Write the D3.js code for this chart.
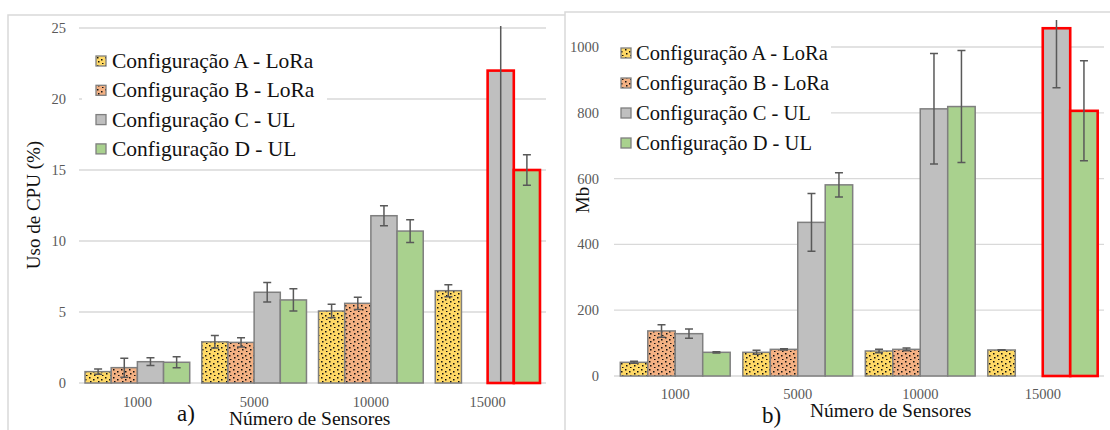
<!DOCTYPE html>
<html>
<head>
<meta charset="utf-8">
<script src="https://cdn.jsdelivr.net/npm/d3@7"></script>
<style>
  html, body { margin: 0; padding: 0; background: #fff; }
  svg { display: block; }
  text { font-family: "Liberation Serif", "Times New Roman", serif; }
</style>
</head>
<body>
<svg id="chart" width="1110" height="430"></svg>
<script>
// ---------- DATA ----------
const categories = ["1000", "5000", "10000", "15000"];
const seriesNames = ["Configuração A - LoRa", "Configuração B - LoRa", "Configuração C - UL", "Configuração D - UL"];
const seriesKeys = ["A", "B", "C", "D"];

// Panel a) CPU usage (%)
const cpuA = [0.8, 2.9, 5.07, 6.5];
const cpuAErr = [0.18, 0.44, 0.48, 0.42];
const cpuB = [1.08, 2.86, 5.61, null];
const cpuBErr = [0.67, 0.32, 0.43, null];
const cpuC = [1.5, 6.39, 11.78, 22.0];
const cpuCErr = [0.27, 0.68, 0.7, 22.0];
const cpuD = [1.46, 5.85, 10.7, 15.0];
const cpuDErr = [0.39, 0.78, 0.8, 1.08];
const cpuTicks = [0, 5, 10, 15, 20, 25];

// Panel b) Memory (Mb)
const memA = [41.6, 72, 76, 79];
const memAErr = [3, 6, 5, 1];
const memB = [137, 81, 81, null];
const memBErr = [19, 2, 4, null];
const memC = [128.6, 467, 812, 1057];
const memCErr = [14, 88, 168, 181];
const memD = [72, 581, 819, 806];
const memDErr = [2, 37, 170, 152];
const memTicks = [0, 200, 400, 600, 800, 1000];

// highlighted (red outline) category / series
const highlightCategory = "15000";
const highlightSeries = ["C", "D"];

// ---------- STYLE ----------
const fills = { A: "#ffd966", B: "#f4b183", C: "#bfbfbf", D: "#a9d18e" };
const dotted = { A: true, B: true, C: false, D: false };

const svg = d3.select("#chart");
const defs = svg.append("defs");

function makePattern(id, color) {
  const p = defs.append("pattern").attr("id", id).attr("patternUnits", "userSpaceOnUse")
    .attr("width", 8).attr("height", 8);
  p.append("rect").attr("width", 8).attr("height", 8).attr("fill", color);
  const dots = [[1, 1], [5, 3], [2, 5], [6, 7]];
  dots.forEach(d => p.append("rect").attr("x", d[0]).attr("y", d[1]).attr("width", 1.5).attr("height", 1.5).attr("fill", "#111"));
}
seriesKeys.forEach(k => { if (dotted[k]) makePattern("pat" + k, fills[k]); });
const fillOf = k => dotted[k] ? `url(#pat${k})` : fills[k];

function buildRows(vals, errs) {
  const rows = [];
  categories.forEach((c, i) => {
    seriesKeys.forEach((k, j) => {
      const v = vals[j][i];
      if (v === null || v === undefined) return;
      rows.push({ cat: c, key: k, v: v, e: errs[j][i] });
    });
  });
  return rows;
}

function drawPanel(cfg) {
  const g = svg.append("g");
  // frame
  g.append("rect").attr("x", cfg.frame[0]).attr("y", cfg.frame[1])
    .attr("width", cfg.frame[2]).attr("height", cfg.frame[3])
    .attr("fill", "#fff").attr("stroke", "#d9d9d9").attr("stroke-width", 1.5);

  const x0 = d3.scaleBand().domain(categories).range(cfg.xRange).paddingInner(0).paddingOuter(0);
  const x1 = d3.scaleBand().domain(seriesKeys).range([0, x0.bandwidth()]).paddingInner(0).paddingOuter(0.23);
  const y = d3.scaleLinear().domain(cfg.yDomain).range(cfg.yRange);

  // gridlines
  g.append("g").selectAll("line").data(cfg.ticks).join("line")
    .attr("x1", cfg.xRange[0]).attr("x2", cfg.xRange[1])
    .attr("y1", d => y(d)).attr("y2", d => y(d))
    .attr("stroke", "#d9d9d9").attr("stroke-width", 1.3);

  // y tick labels
  g.append("g").selectAll("text").data(cfg.ticks).join("text")
    .attr("x", cfg.yLabelX).attr("y", d => y(d) + 5)
    .attr("text-anchor", "end").attr("font-size", 14.5).attr("fill", "#595959")
    .text(d => d);

  // x tick labels
  g.append("g").selectAll("text").data(categories).join("text")
    .attr("x", d => x0(d) + x0.bandwidth() / 2).attr("y", cfg.xLabelY)
    .attr("text-anchor", "middle").attr("font-size", 14.5).attr("fill", "#595959")
    .text(d => d);

  const rows = buildRows(cfg.vals, cfg.errs);
  const isHi = d => d.cat === highlightCategory && highlightSeries.includes(d.key);

  // bars
  g.append("g").selectAll("rect").data(rows).join("rect")
    .attr("x", d => x0(d.cat) + x1(d.key))
    .attr("y", d => y(d.v))
    .attr("width", x1.bandwidth())
    .attr("height", d => y(0) - y(d.v))
    .attr("fill", d => fillOf(d.key))
    .attr("stroke", d => isHi(d) ? "#ff0000" : "#7f7f7f")
    .attr("stroke-width", d => isHi(d) ? 2.6 : 1.5);

  // error bars (clipped to plot area)
  const clipId = "clip" + cfg.id;
  defs.append("clipPath").attr("id", clipId).append("rect")
    .attr("x", cfg.xRange[0] - 5).attr("y", cfg.clipTop)
    .attr("width", cfg.xRange[1] - cfg.xRange[0] + 10).attr("height", y(0) - 1.5 - cfg.clipTop);
  const eg = g.append("g").attr("clip-path", `url(#${clipId})`);
  const cx = d => x0(d.cat) + x1(d.key) + x1.bandwidth() / 2;
  const er = rows.filter(d => d.e);
  eg.selectAll("line.v").data(er).join("line").attr("class", "v")
    .attr("x1", cx).attr("x2", cx)
    .attr("y1", d => y(d.v + d.e)).attr("y2", d => y(Math.max(0, d.v - d.e)))
    .attr("stroke", "#595959").attr("stroke-width", 1.5);
  [1, -1].forEach(s => {
    eg.selectAll("line.c" + (s > 0 ? "t" : "b")).data(er).join("line").attr("class", "c" + (s > 0 ? "t" : "b"))
      .attr("x1", d => cx(d) - 4).attr("x2", d => cx(d) + 4)
      .attr("y1", d => y(Math.max(0, d.v + s * d.e))).attr("y2", d => y(Math.max(0, d.v + s * d.e)))
      .attr("stroke", "#595959").attr("stroke-width", 1.5);
  });

  // legend
  const lg = g.append("g");
  lg.append("rect").attr("x", cfg.legendBox[0]).attr("y", cfg.legendBox[1])
    .attr("width", cfg.legendBox[2]).attr("height", cfg.legendBox[3]).attr("fill", "#fff");
  seriesKeys.forEach((k, i) => {
    const yy = cfg.legendY0 + i * cfg.legendStep;
    lg.append("rect").attr("x", cfg.swatchX).attr("y", yy - 5).attr("width", 10).attr("height", 10)
      .attr("fill", fillOf(k)).attr("stroke", "#7f7f7f").attr("stroke-width", 1.3);
    lg.append("text").attr("x", cfg.legendTextX).attr("y", yy + 7)
      .attr("font-size", cfg.legendFont).attr("fill", "#111").text(seriesNames[i]);
  });

  // axis titles
  g.append("text").attr("transform", `translate(${cfg.yTitle[0]},${cfg.yTitle[1]}) rotate(-90)`)
    .attr("text-anchor", "middle").attr("font-size", 19).attr("fill", "#111").text(cfg.yTitleText);
  g.append("text").attr("x", cfg.xTitle[0]).attr("y", cfg.xTitle[1])
    .attr("font-size", 19.5).attr("fill", "#111").text("Número de Sensores");
  g.append("text").attr("x", cfg.tag[0]).attr("y", cfg.tag[1])
    .attr("font-size", 23).attr("fill", "#111").text(cfg.tagText);
}

drawPanel({
  id: "a",
  frame: [8, 15, 620, 450],
  xRange: [79, 546], yDomain: [0, 25], yRange: [383, 28],
  ticks: cpuTicks, yLabelX: 66, xLabelY: 407,
  vals: [cpuA, cpuB, cpuC, cpuD], errs: [cpuAErr, cpuBErr, cpuCErr, cpuDErr],
  clipTop: 26,
  legendBox: [82, 45, 245, 118], swatchX: 96, legendTextX: 112, legendY0: 61, legendStep: 29.3, legendFont: 21.5,
  yTitle: [40, 205], yTitleText: "Uso de CPU (%)",
  xTitle: [229, 425], tag: [177, 421], tagText: "a)"
});

drawPanel({
  id: "b",
  frame: [565, 12, 600, 460],
  xRange: [614, 1104], yDomain: [0, 1000], yRange: [376, 47],
  ticks: memTicks, yLabelX: 599, xLabelY: 399,
  vals: [memA, memB, memC, memD], errs: [memAErr, memBErr, memCErr, memDErr],
  clipTop: 20,
  legendBox: [614, 37, 217, 122], swatchX: 621, legendTextX: 636, legendY0: 53, legendStep: 30, legendFont: 20.5,
  yTitle: [589, 200], yTitleText: "Mb",
  xTitle: [810, 417], tag: [762, 423], tagText: "b)"
});
</script>
</body>
</html>
